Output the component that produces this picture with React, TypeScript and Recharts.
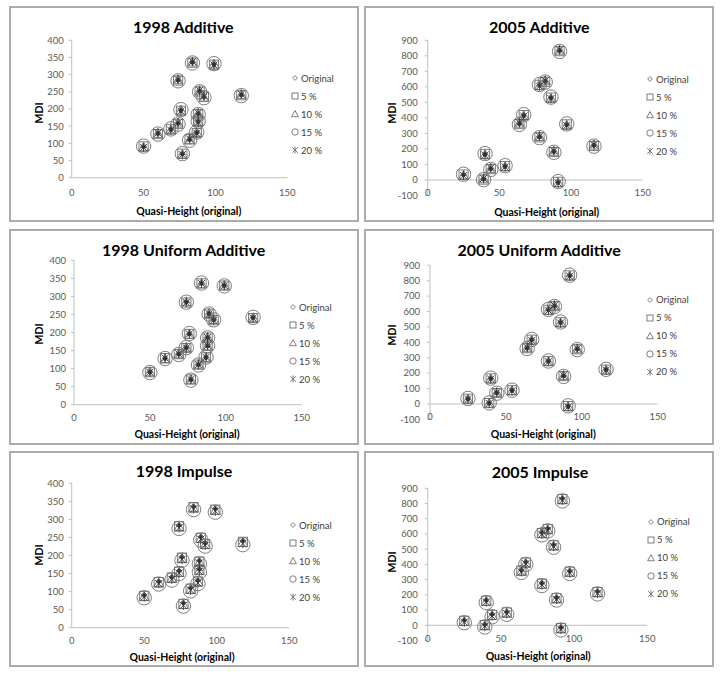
import { Legend, ReferenceLine, Scatter, ScatterChart, XAxis, YAxis } from "recharts";

const FONT = "Lato, 'Open Sans', sans-serif";
const AXIS_GRAY = "#bfbfbf";
const TICK_TEXT = "#595959";
const MARK_GRAY = "#6f6f6f";
const MARK_DARK = "#333333";

const SERIES_NAMES = ["Original", "5 %", "10 %", "15 %", "20 %"];
const X_TICKS = [0, 50, 100, 150];
const Y_TICKS_1998 = [0, 50, 100, 150, 200, 250, 300, 350, 400];
const Y_TICKS_2005 = [-100, 0, 100, 200, 300, 400, 500, 600, 700, 800, 900];

// quasi-height (original) is the x value for every series
const QH_1998 = [50, 60, 69, 74, 76, 74, 77, 82, 84, 87, 88, 88, 89, 92, 99, 118];
const MDI_1998 = [90, 128, 140, 158, 196, 284, 69, 111, 336, 131, 163, 186, 252, 235, 330, 241];

const ADD98_5 = [91, 127, 141, 157, 195, 283, 70, 112, 335, 130, 164, 185, 251, 236, 329, 240];
const ADD98_10 = [89, 129, 139, 159, 197, 285, 68, 110, 337, 132, 162, 187, 253, 234, 331, 242];
const ADD98_15 = [92, 127, 142, 156, 198, 282, 70, 109, 334, 133, 165, 184, 250, 233, 332, 239];
const ADD98_20 = [88, 130, 138, 160, 194, 286, 67, 113, 338, 129, 161, 188, 254, 237, 328, 243];

const UNI98_5 = [90, 129, 140, 157, 196, 283, 70, 111, 336, 131, 164, 186, 252, 234, 330, 240];
const UNI98_10 = [91, 127, 141, 159, 195, 285, 69, 112, 335, 130, 162, 187, 253, 236, 331, 241];
const UNI98_15 = [89, 128, 139, 158, 197, 284, 68, 110, 337, 132, 163, 185, 251, 235, 329, 242];
const UNI98_20 = [90, 129, 141, 157, 196, 283, 70, 111, 336, 131, 164, 186, 252, 234, 330, 240];

const IMP98_5 = [88, 126, 139, 155, 194, 281, 66, 108, 334, 128, 161, 183, 249, 232, 327, 238];
const IMP98_10 = [86, 124, 136, 153, 191, 279, 64, 106, 331, 127, 158, 181, 247, 230, 325, 236];
const IMP98_15 = [83, 121, 132, 150, 187, 275, 60, 102, 327, 122, 154, 177, 243, 226, 320, 230];
const IMP98_20 = [85, 122, 134, 151, 189, 277, 62, 104, 329, 124, 156, 179, 245, 228, 323, 233];

const QH_2005 = [25, 39, 40, 44, 54, 64, 67, 78, 78, 82, 86, 88, 91, 92, 97, 116];
const MDI_2005 = [33, 5, 165, 72, 88, 363, 416, 277, 610, 636, 529, 182, -15, 833, 356, 222];

const ADD05_5 = [35, 3, 168, 70, 90, 360, 418, 275, 613, 633, 531, 180, -12, 830, 358, 220];
const ADD05_10 = [30, 8, 162, 75, 85, 366, 413, 280, 607, 639, 526, 185, -18, 836, 353, 225];
const ADD05_15 = [37, 2, 170, 68, 92, 358, 421, 273, 615, 631, 534, 178, -10, 828, 361, 218];
const ADD05_20 = [28, 10, 160, 77, 84, 368, 411, 282, 605, 641, 524, 187, -20, 838, 351, 227];

const UNI05_5 = [34, 6, 166, 71, 89, 362, 417, 278, 611, 635, 530, 181, -14, 834, 355, 223];
const UNI05_10 = [32, 4, 163, 74, 87, 365, 414, 276, 608, 638, 527, 184, -16, 831, 358, 221];
const UNI05_15 = [36, 7, 168, 70, 90, 360, 419, 279, 614, 633, 532, 179, -12, 836, 353, 225];
const UNI05_20 = [30, 3, 161, 75, 86, 366, 412, 274, 606, 640, 525, 186, -19, 829, 360, 219];

const IMP05_5 = [29, 1, 161, 68, 84, 359, 412, 273, 606, 632, 525, 178, -19, 829, 352, 218];
const IMP05_10 = [25, -3, 157, 64, 80, 355, 408, 269, 602, 628, 521, 174, -23, 825, 348, 214];
const IMP05_15 = [17, -11, 149, 56, 72, 347, 400, 261, 594, 620, 513, 166, -31, 817, 340, 206];
const IMP05_20 = [21, -7, 153, 60, 76, 351, 404, 265, 598, 624, 517, 170, -27, 821, 344, 210];

type Layout = {
  left: number;
  top: number;
  plotL: number;
  plotR: number;
  plotT: number;
  plotB: number;
  titleX: number;
  titleY: number;
  xTickY: number;
  xTitleX: number;
  xTitleY: number;
  yTitleX: number;
  yTitleY: number;
  yTickGap: number;
  legX: number;
  legY: number;
};

type Panel = {
  title: string;
  xs: number[];
  series: number[][];
  yDomain: [number, number];
  yTicks: number[];
  layout: Layout;
};

const PANEL_W = 350;
const PANEL_H = 216;

const PANELS: Panel[] = [
  {
    title: "1998 Additive",
    xs: QH_1998,
    series: [MDI_1998, ADD98_5, ADD98_10, ADD98_15, ADD98_20],
    yDomain: [0, 400],
    yTicks: Y_TICKS_1998,
    layout: { left: 9, top: 6, plotL: 62.7, plotR: 278.3, plotT: 34.3, plotB: 171.7, titleX: 174.3, titleY: 20, xTickY: 186.3, xTitleX: 179.8, xTitleY: 205, yTitleX: 30.3, yTitleY: 107.3, yTickGap: 8, legX: 286, legY: 72 },
  },
  {
    title: "2005 Additive",
    xs: QH_2005,
    series: [MDI_2005, ADD05_5, ADD05_10, ADD05_15, ADD05_20],
    yDomain: [-100, 900],
    yTicks: Y_TICKS_2005,
    layout: { left: 364, top: 6, plotL: 63.7, plotR: 278.7, plotT: 34.3, plotB: 189.5, titleX: 175.3, titleY: 20, xTickY: 186.7, xTitleX: 182.7, xTitleY: 205.7, yTitleX: 27.7, yTitleY: 107.3, yTickGap: 10, legX: 286, legY: 73 },
  },
  {
    title: "1998 Uniform Additive",
    xs: QH_1998,
    series: [MDI_1998, UNI98_5, UNI98_10, UNI98_15, UNI98_20],
    yDomain: [0, 400],
    yTicks: Y_TICKS_1998,
    layout: { left: 9, top: 229, plotL: 65, plotR: 292.7, plotT: 31.3, plotB: 175.7, titleX: 174.7, titleY: 19.7, xTickY: 188.3, xTitleX: 178, xTitleY: 204.7, yTitleX: 30.3, yTitleY: 105, yTickGap: 8, legX: 284, legY: 78 },
  },
  {
    title: "2005 Uniform Additive",
    xs: QH_2005,
    series: [MDI_2005, UNI05_5, UNI05_10, UNI05_15, UNI05_20],
    yDomain: [-100, 900],
    yTicks: Y_TICKS_2005,
    layout: { left: 364, top: 229, plotL: 66, plotR: 293.7, plotT: 36.3, plotB: 190.4, titleX: 175.2, titleY: 19.7, xTickY: 187.7, xTitleX: 179.3, xTitleY: 204.7, yTitleX: 28.3, yTitleY: 105.7, yTickGap: 10, legX: 286, legY: 70.7 },
  },
  {
    title: "1998 Impulse",
    xs: QH_1998,
    series: [MDI_1998, IMP98_5, IMP98_10, IMP98_15, IMP98_20],
    yDomain: [0, 400],
    yTicks: Y_TICKS_1998,
    layout: { left: 9, top: 451, plotL: 62.7, plotR: 280.3, plotT: 32.3, plotB: 176.7, titleX: 175, titleY: 19, xTickY: 189.7, xTitleX: 173, xTitleY: 205.7, yTitleX: 30.3, yTitleY: 104, yTickGap: 8, legX: 284, legY: 74 },
  },
  {
    title: "2005 Impulse",
    xs: QH_2005,
    series: [MDI_2005, IMP05_5, IMP05_10, IMP05_15, IMP05_20],
    yDomain: [-100, 900],
    yTicks: Y_TICKS_2005,
    layout: { left: 364, top: 451, plotL: 63.7, plotR: 283.3, plotT: 37.3, plotB: 189.5, titleX: 176, titleY: 20, xTickY: 187.3, xTitleX: 174.2, xTitleY: 205, yTitleX: 28.3, yTitleY: 111, yTickGap: 10, legX: 287, legY: 70.7 },
  },
];

// Excel-style markers: 0 diamond, 1 square, 2 triangle, 3 circle, 4 star
const PLOT_SIZES = [2.6, 4.6, 5, 7.2, 3.6];
const LEGEND_SIZES = [2.4, 3, 3.4, 3.2, 2.8];

function Marker({ kind, cx, cy, legend = false }: { kind: number; cx: number; cy: number; legend?: boolean }) {
  const sw = 0.9;
  const r = (legend ? LEGEND_SIZES : PLOT_SIZES)[kind];
  if (kind === 0) {
    return (
      <path
        d={`M${cx},${cy - r}L${cx + r},${cy}L${cx},${cy + r}L${cx - r},${cy}Z`}
        fill={legend ? "none" : MARK_DARK}
        stroke={legend ? MARK_GRAY : MARK_DARK}
        strokeWidth={sw}
      />
    );
  }
  if (kind === 1) {
    return <rect x={cx - r} y={cy - r} width={2 * r} height={2 * r} fill="none" stroke={MARK_GRAY} strokeWidth={sw} />;
  }
  if (kind === 2) {
    return (
      <path
        d={`M${cx},${cy - r}L${cx + r},${cy + r * 0.8}L${cx - r},${cy + r * 0.8}Z`}
        fill="none"
        stroke={MARK_GRAY}
        strokeWidth={sw}
      />
    );
  }
  if (kind === 3) {
    return <circle cx={cx} cy={cy} r={r} fill="none" stroke={MARK_GRAY} strokeWidth={sw} />;
  }
  const v = r * 1.28;
  return (
    <path
      d={`M${cx - r},${cy - r}L${cx + r},${cy + r}M${cx + r},${cy - r}L${cx - r},${cy + r}M${cx},${cy - v}L${cx},${cy + v}`}
      stroke={legend ? MARK_GRAY : MARK_DARK}
      strokeWidth={sw}
      fill="none"
    />
  );
}

function LegendBox() {
  return (
    <div style={{ fontFamily: FONT, fontSize: 9.5, color: "#404040" }}>
      {SERIES_NAMES.map((name, i) => (
        <div key={name} style={{ display: "flex", alignItems: "center", height: 18 }}>
          <svg width={10} height={10} style={{ flex: "none" }}>
            <Marker kind={i} cx={5} cy={5} legend />
          </svg>
          <span style={{ marginLeft: 1, whiteSpace: "nowrap" }}>{name}</span>
        </div>
      ))}
    </div>
  );
}

function ScatterPanel({ panel }: { panel: Panel }) {
  const L = panel.layout;
  const yAxisW = 40;
  const xAxisH = 16;
  const margin = {
    top: L.plotT,
    left: L.plotL - yAxisW,
    right: PANEL_W - L.plotR,
    bottom: PANEL_H - L.plotB - xAxisH,
  };

  return (
    <div style={{ position: "absolute", left: L.left, top: L.top, width: PANEL_W, height: PANEL_H }}>
      <ScatterChart width={PANEL_W} height={PANEL_H} margin={margin}>
        <XAxis
          type="number"
          dataKey="x"
          domain={[0, 150]}
          ticks={X_TICKS}
          interval={0}
          height={xAxisH}
          axisLine={false}
          tickLine={false}
          tick={(p: any) => (
            <text x={p.x} y={L.xTickY} dy="0.35em" textAnchor="middle" fontSize={9.5} fontFamily={FONT} fill={TICK_TEXT}>
              {p.payload.value}
            </text>
          )}
        />
        <YAxis
          type="number"
          dataKey="y"
          domain={panel.yDomain}
          ticks={panel.yTicks}
          interval={0}
          width={yAxisW}
          axisLine={{ stroke: AXIS_GRAY }}
          tickLine={{ stroke: AXIS_GRAY }}
          tickSize={3}
          tickMargin={L.yTickGap - 3}
          tick={(p: any) => (
            <text x={p.x} y={p.y} dy="0.35em" textAnchor="end" fontSize={9.5} fontFamily={FONT} fill={TICK_TEXT}>
              {p.payload.value}
            </text>
          )}
        />
        <ReferenceLine y={0} stroke={AXIS_GRAY} strokeWidth={1} />
        {panel.series.map((ys, k) => (
          <Scatter
            key={SERIES_NAMES[k]}
            name={SERIES_NAMES[k]}
            data={panel.xs.map((x, i) => ({ x, y: ys[i] }))}
            isAnimationActive={false}
            shape={(p: any) => <Marker kind={k} cx={p.cx} cy={p.cy} />}
          />
        ))}
        <Legend
          layout="vertical"
          align="center"
          verticalAlign="middle"
          wrapperStyle={{ position: "absolute", left: L.legX - 5, top: L.legY - 9, width: 60, margin: 0 }}
          content={() => <LegendBox />}
        />
      </ScatterChart>
      <div
        style={{
          position: "absolute",
          left: L.titleX,
          top: L.titleY,
          transform: "translate(-50%, -50%)",
          fontFamily: FONT,
          fontWeight: 700,
          fontSize: 16,
          whiteSpace: "nowrap",
          color: "#000",
        }}
      >
        {panel.title}
      </div>
      <div
        style={{
          position: "absolute",
          left: L.xTitleX,
          top: L.xTitleY,
          transform: "translate(-50%, -50%)",
          fontFamily: FONT,
          fontWeight: 700,
          fontSize: 10.5,
          whiteSpace: "nowrap",
          color: "#000",
        }}
      >
        Quasi-Height (original)
      </div>
      <div
        style={{
          position: "absolute",
          left: L.yTitleX,
          top: L.yTitleY,
          transform: "translate(-50%, -50%) rotate(-90deg)",
          fontFamily: FONT,
          fontWeight: 700,
          fontSize: 10.5,
          whiteSpace: "nowrap",
          color: "#000",
        }}
      >
        MDI
      </div>
      <div
        style={{
          position: "absolute",
          inset: 0,
          border: "2px solid #ababab",
          boxSizing: "border-box",
          pointerEvents: "none",
        }}
      />
    </div>
  );
}

export default function App() {
  return (
    <div style={{ position: "absolute", left: 0, top: 0, width: 721, height: 681, background: "#fff" }}>
      {PANELS.map((p) => (
        <ScatterPanel key={p.title} panel={p} />
      ))}
    </div>
  );
}
